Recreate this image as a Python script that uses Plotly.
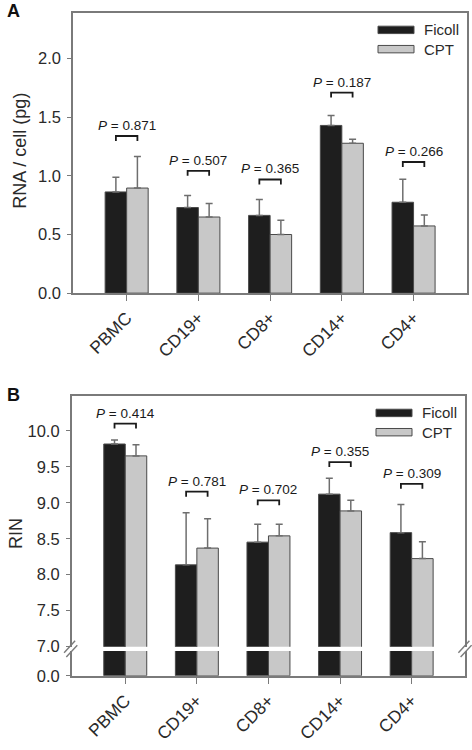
import plotly.graph_objects as go

# ---------------- data ----------------
categories = ["PBMC", "CD19+", "CD8+", "CD14+", "CD4+"]

rna_ficoll = [0.863, 0.730, 0.663, 1.430, 0.775]
rna_ficoll_sd = [0.126, 0.102, 0.135, 0.084, 0.197]
rna_cpt = [0.896, 0.649, 0.500, 1.278, 0.573]
rna_cpt_sd = [0.270, 0.115, 0.121, 0.034, 0.093]
rna_p = ["0.871", "0.507", "0.365", "0.187", "0.266"]
rna_bracket = [1.34, 1.042, 0.969, 1.71, 1.118]

rin_ficoll = [9.817, 8.137, 8.453, 9.120, 8.585]
rin_ficoll_sd = [0.055, 0.723, 0.247, 0.220, 0.390]
rin_cpt = [9.652, 8.370, 8.540, 8.887, 8.224]
rin_cpt_sd = [0.156, 0.408, 0.160, 0.147, 0.233]
rin_p = ["0.414", "0.781", "0.702", "0.355", "0.309"]
rin_bracket = [10.10, 9.154, 9.034, 9.566, 9.264]

# ---------------- styling ----------------
W, H = 472, 750
FONT = "Liberation Sans, Arial, sans-serif"
C_FIC = "#1e1e1e"
C_CPT = "#c8c8c8"
C_EDGE = "#4a4a4a"
C_ERR = "#6e6e6e"
C_AX = "#7a7a7a"
C_TXT = "#2a2a2a"

xpos = list(range(len(categories)))
XR = [-0.748, 4.745]


def px(v):
    return v / W


def py(v):
    return 1 - v / H


fig = go.Figure()


def add_bars(xa, ya, fic, cpt, fsd=None, csd=None, show_err=True):
    for name, vals, sd, col in (("Ficoll", fic, fsd, C_FIC), ("CPT", cpt, csd, C_CPT)):
        kw = {}
        if show_err:
            kw["error_y"] = dict(type="data", array=sd, arrayminus=[0] * len(sd),
                                 symmetric=False, color=C_ERR, thickness=1.5, width=3.5)
        fig.add_trace(go.Bar(x=xpos, y=vals, name=name, xaxis=xa, yaxis=ya,
                             offsetgroup=name, marker=dict(color=col, line=dict(color=C_EDGE, width=1)),
                             showlegend=False, hoverinfo="skip", **kw))


add_bars("x", "y", rna_ficoll, rna_cpt, rna_ficoll_sd, rna_cpt_sd)
add_bars("x2", "y2", rin_ficoll, rin_cpt, rin_ficoll_sd, rin_cpt_sd)
add_bars("x3", "y3", rin_ficoll, rin_cpt, show_err=False)

# panel geometry (pixels)
A_L, A_R, A_T, A_B = 73, 467, 13, 296.7
B_L, B_R, B_T, B_BU, B_TL, B_B = 71.7, 465, 400.7, 654.5, 659, 684
A_RANGE = [0, 2.39]
BU_RANGE = [7.0, 10.486]
BL_RANGE = [0, 0.343]

common_ax = dict(showgrid=False, zeroline=False, showline=True, linecolor=C_AX, linewidth=1.5,
                 tickcolor=C_AX, tickwidth=1.2, tickfont=dict(family=FONT, size=16.5, color=C_TXT))

xticks = dict(tickmode="array", tickvals=xpos, ticktext=categories, tickangle=-45,
              ticks="outside", ticklen=6, tickfont=dict(family=FONT, size=17.5, color=C_TXT))

yticks = dict(ticks="outside", ticklen=4, ticklabelstandoff=3)

fig.update_layout(
    width=W, height=H, autosize=False,
    margin=dict(l=0, r=0, t=0, b=0),
    paper_bgcolor="white", plot_bgcolor="white",
    barmode="group", bargap=0.4, bargroupgap=0,
    font=dict(family=FONT, color=C_TXT),
    xaxis=dict(**{**common_ax, **xticks}, domain=[px(A_L), px(A_R)], range=XR, anchor="y", mirror=True),
    yaxis=dict(**common_ax, **yticks, domain=[py(A_B), py(A_T)], range=A_RANGE, anchor="x", mirror=True,
               tickmode="array", tickvals=[0, 0.5, 1.0, 1.5, 2.0], tickformat=".1f"),
    xaxis2=dict(**common_ax, domain=[px(B_L), px(B_R)], range=XR, anchor="y2", side="top",
                showticklabels=False, ticks=""),
    yaxis2=dict(**common_ax, **yticks, domain=[py(B_BU), py(B_T)], range=BU_RANGE, anchor="x2", mirror=True,
                tickmode="array", tickvals=[7.0, 7.5, 8.0, 8.5, 9.0, 9.5, 10.0], tickformat=".1f"),
    xaxis3=dict(**{**common_ax, **xticks}, domain=[px(B_L), px(B_R)], range=XR, anchor="y3"),
    yaxis3=dict(**common_ax, **yticks, domain=[py(B_B), py(B_TL)], range=BL_RANGE, anchor="x3", mirror=True,
                tickmode="array", tickvals=[0], ticktext=["0.0"]),
)

shapes = []
annotations = []

# brackets + P values
half = 0.15
for (xr, yr, brk, pv, rng, top, bot) in (("x", "y", rna_bracket, rna_p, A_RANGE, A_T, A_B),
                                          ("x2", "y2", rin_bracket, rin_p, BU_RANGE, B_T, B_BU)):
    unit_per_px = (rng[1] - rng[0]) / (bot - top)
    leg = 5 * unit_per_px
    for i, (b, p) in enumerate(zip(brk, pv)):
        shapes.append(dict(type="path", xref=xr, yref=yr,
                           path=f"M {i - half},{b - leg} L {i - half},{b} L {i + half},{b} L {i + half},{b - leg}",
                           line=dict(color="#1a1a1a", width=1.8)))
        annotations.append(dict(x=i, y=b, xref=xr, yref=yr, text=f"<i>P</i> = {p}", showarrow=False,
                                xanchor="center", yanchor="bottom", yshift=1,
                                font=dict(family=FONT, size=13.5, color="#1a1a1a")))

# manual legends
for (right, top) in ((A_R, A_T), (B_R, B_T)):
    for k, (name, col) in enumerate((("Ficoll", C_FIC), ("CPT", C_CPT))):
        y0 = top + 13.5 + k * 19.5
        shapes.append(dict(type="rect", xref="paper", yref="paper",
                           x0=px(right - 89), x1=px(right - 53), y0=py(y0 + 7.5), y1=py(y0),
                           fillcolor=col, line=dict(color=C_EDGE, width=1)))
        annotations.append(dict(x=px(right - 45), y=py(y0 + 3.8), xref="paper", yref="paper",
                                text=name, showarrow=False, xanchor="left", yanchor="middle",
                                font=dict(family=FONT, size=15, color=C_TXT)))

# axis break marks
for xc in (B_L - 1, B_R):
    for dy in (-2.2, 2.2):
        shapes.append(dict(type="line", xref="paper", yref="paper",
                           x0=px(xc - 5.5 + dy * 0.5), y0=py(656.8 + dy + 6),
                           x1=px(xc + 5.5 + dy * 0.5), y1=py(656.8 + dy - 6),
                           line=dict(color=C_AX, width=1.4)))

# axis titles and panel labels
annotations += [
    dict(x=px(20.5), y=py(153), xref="paper", yref="paper", text="RNA / cell (pg)", textangle=-90,
         showarrow=False, xanchor="center", yanchor="middle", font=dict(family=FONT, size=18, color=C_TXT)),
    dict(x=px(15.5), y=py(540), xref="paper", yref="paper", text="RIN", textangle=-90,
         showarrow=False, xanchor="center", yanchor="middle", font=dict(family=FONT, size=18, color=C_TXT)),
    dict(x=px(13), y=py(11.5), xref="paper", yref="paper", text="<b>A</b>", showarrow=False,
         xanchor="center", yanchor="middle", font=dict(family=FONT, size=18, color="#111")),
    dict(x=px(13), y=py(399.5), xref="paper", yref="paper", text="<b>B</b>", showarrow=False,
         xanchor="center", yanchor="middle", font=dict(family=FONT, size=18, color="#111")),
]

fig.update_layout(shapes=shapes, annotations=annotations)
fig.write_html("out.html", config={"displayModeBar": False},
               post_script="document.body.style.margin='0';document.body.style.overflow='hidden';")
